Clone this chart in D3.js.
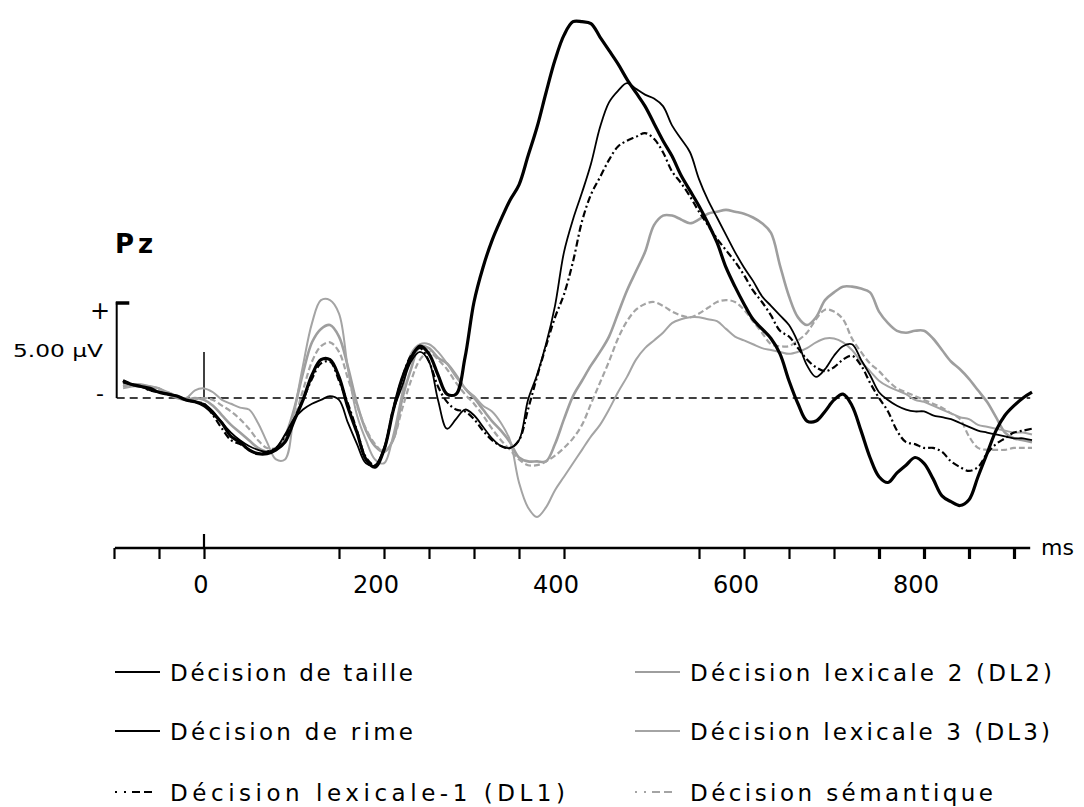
<!DOCTYPE html>
<html><head><meta charset="utf-8">
<script src="https://cdn.jsdelivr.net/npm/d3@7"></script>
<style>
html,body{margin:0;padding:0;background:#fff;}
svg{display:block;}
text{font-family:"DejaVu Sans","Liberation Sans",Arial,sans-serif;fill:#000;}
</style></head><body>
<svg id="chart" width="1084" height="807"></svg>
<script>
// Sampling times (ms) shared by every waveform
const times = d3.range(-90, 921, 10);

// Grand-average ERP amplitudes at Pz (µV), one value per sampling time
const taille = [0.9,0.7,0.6,0.5,0.3,0.2,0.1,-0.1,-0.2,-0.4,
  -0.8,-1.3,-2.0,-2.3,-2.7,-2.9,-2.9,-2.7,-2.3,-1.2,
  -0.1,1.2,2.0,2.0,1.1,-0.5,-1.8,-3.2,-3.6,-2.7,
  -0.7,1.0,2.1,2.7,2.3,1.2,0.2,0.2,2.1,5.0,
  6.8,8.2,9.3,10.3,11.1,12.6,14.1,15.9,17.6,18.9,
  19.6,19.6,19.5,18.8,18.1,17.4,16.6,15.9,15.2,14.3,
  13.4,12.6,11.6,10.8,10.0,9.1,8.1,6.8,5.8,4.9,
  4.1,3.6,3.1,2.3,0.9,-0.3,-1.2,-1.2,-0.7,-0.1,
  0.2,-0.4,-1.7,-3.1,-4.1,-4.4,-3.9,-3.5,-3.1,-3.4,
  -4.2,-5.1,-5.4,-5.6,-5.3,-4.1,-2.9,-1.7,-0.9,-0.4,
  0.0,0.3];
const rime = [0.8,0.7,0.6,0.4,0.3,0.2,0.1,-0.1,-0.2,-0.3,
  -0.7,-1.3,-1.8,-2.2,-2.5,-2.7,-2.8,-2.6,-1.9,-1.1,
  -0.6,-0.3,-0.1,0.1,-0.1,-1.3,-2.4,-3.4,-3.5,-2.6,
  -0.7,0.6,1.9,2.4,1.9,-0.1,-1.6,-1.1,-0.6,-0.9,
  -1.5,-2.1,-2.5,-2.6,-2.2,-0.1,1.2,2.8,4.8,7.6,
  9.3,10.7,12.2,14.1,15.4,16.0,16.4,16.1,15.8,15.6,
  15.2,14.2,13.5,12.8,11.4,10.3,9.4,8.5,7.6,6.8,
  6.1,5.3,4.8,4.3,3.8,2.9,1.7,1.1,1.5,2.2,
  2.7,2.8,2.0,1.2,0.3,-0.1,-0.4,-0.6,-0.7,-0.7,
  -0.9,-1.0,-1.1,-1.3,-1.5,-1.7,-1.8,-1.9,-2.0,-2.1,
  -2.1,-2.2];
const lexicale1 = [0.9,0.7,0.6,0.4,0.3,0.2,0.1,-0.1,-0.2,-0.3,
  -0.9,-1.6,-2.2,-2.4,-2.7,-2.9,-2.8,-2.6,-2.0,-1.1,
  -0.1,1.0,1.8,1.9,0.9,-0.3,-1.7,-3.1,-3.5,-2.7,
  -0.6,1.0,2.2,2.6,1.9,0.6,-0.2,-0.6,-0.7,-1.1,
  -1.7,-2.2,-2.5,-2.6,-2.2,-0.6,1.1,2.7,4.2,5.4,
  7.1,9.2,10.6,11.5,12.4,13.1,13.4,13.6,13.8,13.5,
  12.8,11.8,11.2,10.5,9.7,9.0,8.3,7.7,7.1,6.4,
  5.6,5.0,4.3,3.5,3.2,2.6,2.0,1.6,1.4,1.6,
  2.0,2.2,1.7,0.8,0.0,-0.7,-1.7,-2.3,-2.4,-2.6,
  -2.6,-2.8,-3.3,-3.6,-3.8,-3.6,-2.9,-2.4,-2.1,-1.8,
  -1.7,-1.6];
const lexicale2 = [0.6,0.7,0.7,0.6,0.5,0.2,0.0,-0.1,0.0,-0.1,
  -0.4,-0.9,-1.4,-1.8,-2.2,-2.6,-2.8,-2.7,-2.0,-0.6,
  1.3,2.9,3.6,3.8,3.2,1.6,-0.3,-1.7,-2.5,-2.8,
  -2.2,-0.1,1.5,2.7,2.6,2.1,1.8,1.2,0.5,0.0,
  -0.6,-1.2,-1.7,-2.3,-3.1,-3.3,-3.3,-3.3,-2.4,-1.1,
  0.1,0.9,1.7,2.4,3.2,4.4,5.6,6.6,7.6,9.0,
  9.5,9.5,9.3,9.1,9.3,9.6,9.7,9.8,9.7,9.6,
  9.4,9.1,8.6,6.9,5.3,4.2,3.8,4.2,5.1,5.5,
  5.8,5.8,5.7,5.5,4.5,3.9,3.5,3.4,3.5,3.5,
  3.1,2.5,1.9,1.5,1.0,0.4,-0.2,-1.0,-1.8,-2.1,
  -2.2,-2.3];
const lexicale3 = [0.5,0.6,0.6,0.6,0.5,0.3,0.1,0.0,0.4,0.5,
  0.3,-0.1,-0.3,-0.5,-0.6,-1.3,-2.3,-3.2,-3.2,-0.8,
  1.7,3.9,5.1,5.1,4.4,1.5,-0.9,-2.2,-3.2,-3.4,
  -2.0,0.2,2.3,2.8,2.8,2.4,1.8,1.1,0.5,0.1,
  -0.4,-0.7,-1.3,-2.2,-4.4,-5.7,-6.2,-5.7,-4.8,-4.1,
  -3.4,-2.7,-2.0,-1.4,-0.6,0.3,1.1,2.0,2.6,3.0,
  3.4,3.9,4.1,4.2,4.2,4.1,4.0,3.6,3.2,3.0,
  2.8,2.6,2.5,2.4,2.3,2.4,2.6,2.9,3.1,3.1,
  2.9,2.5,1.9,1.4,0.9,0.6,0.4,0.2,-0.1,-0.2,
  -0.4,-0.6,-0.8,-1.0,-1.1,-1.4,-1.5,-1.6,-1.7,-1.8,
  -1.8,-1.9];
const semantique = [0.7,0.7,0.6,0.6,0.4,0.3,0.1,-0.1,-0.1,0.0,
  -0.1,-0.4,-0.7,-1.1,-1.6,-2.2,-2.6,-2.6,-2.1,-1.1,
  0.4,1.9,2.7,2.9,2.4,1.0,-0.4,-1.6,-2.4,-2.8,
  -2.2,-0.6,0.9,2.0,2.4,2.0,1.5,0.8,0.2,-0.3,
  -0.9,-1.6,-2.2,-2.7,-3.2,-3.5,-3.5,-3.3,-3.0,-2.6,
  -2.1,-1.4,-0.3,0.8,1.9,3.1,4.0,4.6,4.9,5.0,
  4.8,4.5,4.3,4.2,4.4,4.7,5.0,5.1,5.0,4.6,
  4.0,3.4,2.8,2.7,2.7,3.0,3.4,4.1,4.6,4.5,
  4.1,3.1,2.4,1.8,1.4,0.9,0.5,0.3,0.1,-0.1,
  -0.3,-0.5,-0.8,-1.1,-2.0,-2.6,-2.7,-2.7,-2.7,-2.6,
  -2.6,-2.6];

// Condition names, in legend order
const conditions = ["Décision de taille", "Décision de rime", "Décision lexicale-1 (DL1)",
  "Décision lexicale 2 (DL2)", "Décision lexicale 3 (DL3)", "Décision sémantique"];
const seriesValues = [taille, rime, lexicale1, lexicale2, lexicale3, semantique];

// Time axis
const tickValues = [-100, -50, 0, 150, 200, 250, 300, 350, 400, 550, 600, 650, 700, 750, 800, 850, 900];
const tickLabels = [0, 200, 400, 600, 800];
const axisUnit = "ms";
const electrode = "Pz";
const scaleBarValue = 5;
const scaleBarLabel = "5.00 µV";

// Drawing styles, keyed by condition
const styles = {
  "Décision de taille":        {color: "#000", width: 3.2, dash: null, key: null},
  "Décision de rime":          {color: "#000", width: 1.8, dash: null, key: null},
  "Décision lexicale-1 (DL1)": {color: "#000", width: 2.2, dash: "7,3,2,3", key: "2,7,2,6,8,4,8,8"},
  "Décision lexicale 2 (DL2)": {color: "#9e9e9e", width: 2.6, dash: null, key: null},
  "Décision lexicale 3 (DL3)": {color: "#a4a4a4", width: 2.0, dash: null, key: null},
  "Décision sémantique":       {color: "#a4a4a4", width: 2.2, dash: "6,3", key: "2,7,2,6,8,4,8,8"}
};

const svg = d3.select("#chart");
const x = d3.scaleLinear().domain([-100, 900]).range([114, 1014]);
const y = d3.scaleLinear().domain([0, scaleBarValue]).range([398, 302]);

// Zero line
svg.append("line")
  .attr("x1", x(-97)).attr("x2", x(918))
  .attr("y1", y(0)).attr("y2", y(0))
  .attr("stroke", "#000").attr("stroke-width", 1.6)
  .attr("stroke-dasharray", "8,5");

// Stimulus onset marker
svg.append("line")
  .attr("x1", x(0)).attr("x2", x(0))
  .attr("y1", y(2.4)).attr("y2", y(0))
  .attr("stroke", "#000").attr("stroke-width", 1.5);

// Amplitude scale bar
const bar = svg.append("g");
bar.append("line")
  .attr("x1", x(-97)).attr("x2", x(-97))
  .attr("y1", y(scaleBarValue)).attr("y2", y(0))
  .attr("stroke", "#000").attr("stroke-width", 2);
bar.append("line")
  .attr("x1", x(-98)).attr("x2", x(-83))
  .attr("y1", y(scaleBarValue) + 1).attr("y2", y(scaleBarValue) + 1)
  .attr("stroke", "#000").attr("stroke-width", 3.5);
bar.append("text").attr("x", 100).attr("y", y(scaleBarValue) + 17)
  .attr("text-anchor", "middle").attr("font-size", 24).text("+");
bar.append("text").attr("x", 100).attr("y", y(0) + 3)
  .attr("text-anchor", "middle").attr("font-size", 22).text("-");
bar.append("text").attr("x", 13).attr("y", 357)
  .attr("font-size", 18).attr("textLength", 90).attr("lengthAdjust", "spacingAndGlyphs")
  .text(scaleBarLabel);

// Electrode name
svg.append("text").attr("x", 115).attr("y", 253)
  .attr("font-size", 26).attr("font-weight", "bold")
  .attr("letter-spacing", 4)
  .text(electrode);

// Waveforms (grey conditions underneath the black ones)
const line = d3.line()
  .x((d, i) => x(times[i]))
  .y(d => y(d))
  .curve(d3.curveCatmullRom.alpha(0.5));

const drawOrder = [3, 4, 5, 1, 2, 0];
svg.append("g").selectAll("path")
  .data(drawOrder)
  .join("path")
  .attr("d", k => line(seriesValues[k]))
  .attr("fill", "none")
  .attr("stroke", k => styles[conditions[k]].color)
  .attr("stroke-width", k => styles[conditions[k]].width)
  .attr("stroke-dasharray", k => styles[conditions[k]].dash)
  .attr("stroke-linejoin", "round");

// Time axis
const axisY = 548;
const axisG = svg.append("g").attr("transform", `translate(0,${axisY})`);
axisG.call(d3.axisBottom(x).tickValues(tickValues).tickSize(11).tickFormat(""));
axisG.select(".domain").remove();
axisG.selectAll(".tick line")
  .attr("stroke", "#000")
  .attr("stroke-width", d => d >= 750 ? 3.2 : 2.2);
axisG.append("line")
  .attr("x1", x(-99)).attr("x2", x(918))
  .attr("stroke", "#000").attr("stroke-width", 2.6);
axisG.append("line")
  .attr("x1", x(0)).attr("x2", x(0)).attr("y1", -14).attr("y2", 0)
  .attr("stroke", "#000").attr("stroke-width", 2.2);
axisG.selectAll("text.lbl")
  .data(tickLabels)
  .join("text").attr("class", "lbl")
  .attr("x", d => x(d) + (d === 0 ? -3 : -8))
  .attr("y", 45)
  .attr("text-anchor", "middle")
  .attr("font-size", 24)
  .text(d => d);
axisG.append("text")
  .attr("x", 1041).attr("y", 7)
  .attr("text-anchor", "start")
  .attr("font-size", 22)
  .text(axisUnit);

// Legend: two columns of three entries
const legendRows = [681, 740, 801];
const legendCols = [{sx: 115, tx: 170}, {sx: 635, tx: 690}];
const legendWidths = [243, 243, 395, 362, 360, 303];
const legend = svg.append("g");
conditions.forEach((name, k) => {
  const col = legendCols[Math.floor(k / 3)];
  const by = legendRows[k % 3];
  const st = styles[name];
  legend.append("line")
    .attr("x1", col.sx).attr("x2", col.sx + 45)
    .attr("y1", by - 9).attr("y2", by - 9)
    .attr("stroke", st.color)
    .attr("stroke-width", 2)
    .attr("stroke-dasharray", st.key);
  legend.append("text")
    .attr("x", col.tx).attr("y", by)
    .attr("font-size", 23)
    .attr("textLength", legendWidths[k]).attr("lengthAdjust", "spacing")
    .text(name);
});
</script>
</body></html>
